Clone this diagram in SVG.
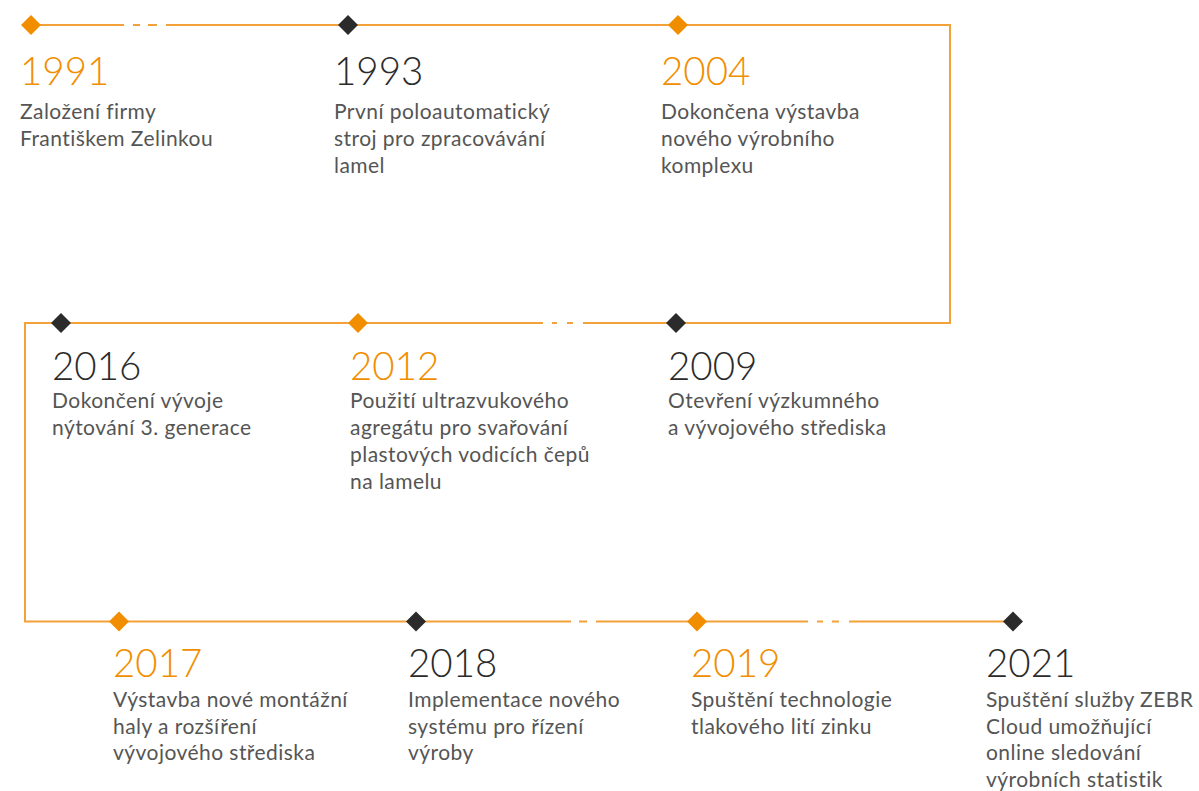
<svg xmlns="http://www.w3.org/2000/svg" width="1199" height="791" viewBox="0 0 1199 791">
<style>
.ln{fill:none;stroke:#f3a23a;stroke-width:2}
.dO{fill:#f18e00}
.dK{fill:#2b2b2b}
.yr{font-family:Lato,"Open Sans","Liberation Sans",sans-serif;font-weight:300;font-size:38.5px}
.yO{fill:#f18e00}
.yK{fill:#2b2b2b}
.tx{font-family:Lato,"Open Sans","Liberation Sans",sans-serif;font-size:21px;letter-spacing:0.45px;fill:#555555}
</style>
<defs>
<path id="dm" d="M0,-10 L10,0 L0,10 L-10,0 Z"/>
</defs>
<rect width="1199" height="791" fill="#ffffff"/>
<g id="connectors">
<path class="ln" d="M31,25 H124 M133,25 H140 M148,25 H157 M166,25 H950 V323 H583 M573,323 H567 M557,323 H552 M543,323 H25 V621.5 H571 M579,621.5 H587 M596,621.5 H808 M817,621.5 H823 M832,621.5 H839 M849,621.5 H1013"/>
</g>
<g id="n1991"><use href="#dm" class="dO" x="31" y="25"/><text class="yr yO" x="20" y="84.5">1991</text><text class="tx" x="20"><tspan x="20" y="119">Založení firmy</tspan><tspan x="20" y="146">Františkem Zelinkou</tspan></text></g>
<g id="n1993"><use href="#dm" class="dK" x="348" y="25"/><text class="yr yK" x="334" y="84.5">1993</text><text class="tx"><tspan x="334" y="119">První poloautomatický</tspan><tspan x="334" y="146">stroj pro zpracovávání</tspan><tspan x="334" y="173">lamel</tspan></text></g>
<g id="n2004"><use href="#dm" class="dO" x="678" y="25"/><text class="yr yO" x="661" y="84.5">2004</text><text class="tx"><tspan x="661" y="119">Dokončena výstavba</tspan><tspan x="661" y="146">nového výrobního</tspan><tspan x="661" y="173">komplexu</tspan></text></g>
<g id="n2016"><use href="#dm" class="dK" x="61" y="323"/><text class="yr yK" x="52" y="380">2016</text><text class="tx"><tspan x="52" y="408">Dokončení vývoje</tspan><tspan x="52" y="435">nýtování 3. generace</tspan></text></g>
<g id="n2012"><use href="#dm" class="dO" x="358" y="323"/><text class="yr yO" x="350" y="380">2012</text><text class="tx"><tspan x="350" y="408">Použití ultrazvukového</tspan><tspan x="350" y="435">agregátu pro svařování</tspan><tspan x="350" y="462">plastových vodicích čepů</tspan><tspan x="350" y="489">na lamelu</tspan></text></g>
<g id="n2009"><use href="#dm" class="dK" x="676" y="323"/><text class="yr yK" x="668" y="380">2009</text><text class="tx"><tspan x="668" y="408">Otevření výzkumného</tspan><tspan x="668" y="435">a vývojového střediska</tspan></text></g>
<g id="n2017"><use href="#dm" class="dO" x="119" y="621.5"/><text class="yr yO" x="113" y="677">2017</text><text class="tx"><tspan x="113" y="707">Výstavba nové montážní</tspan><tspan x="113" y="733.5">haly a rozšíření</tspan><tspan x="113" y="760">vývojového střediska</tspan></text></g>
<g id="n2018"><use href="#dm" class="dK" x="416" y="621.5"/><text class="yr yK" x="408" y="677">2018</text><text class="tx"><tspan x="408" y="707">Implementace nového</tspan><tspan x="408" y="733.5">systému pro řízení</tspan><tspan x="408" y="760">výroby</tspan></text></g>
<g id="n2019"><use href="#dm" class="dO" x="697" y="621.5"/><text class="yr yO" x="691" y="677">2019</text><text class="tx"><tspan x="691" y="707">Spuštění technologie</tspan><tspan x="691" y="733.5">tlakového lití zinku</tspan></text></g>
<g id="n2021"><use href="#dm" class="dK" x="1013" y="621.5"/><text class="yr yK" x="986" y="677">2021</text><text class="tx"><tspan x="986" y="707">Spuštění služby ZEBR</tspan><tspan x="986" y="733.5">Cloud umožňující</tspan><tspan x="986" y="760">online sledování</tspan><tspan x="986" y="786.5">výrobních statistik</tspan></text></g>
</svg>
